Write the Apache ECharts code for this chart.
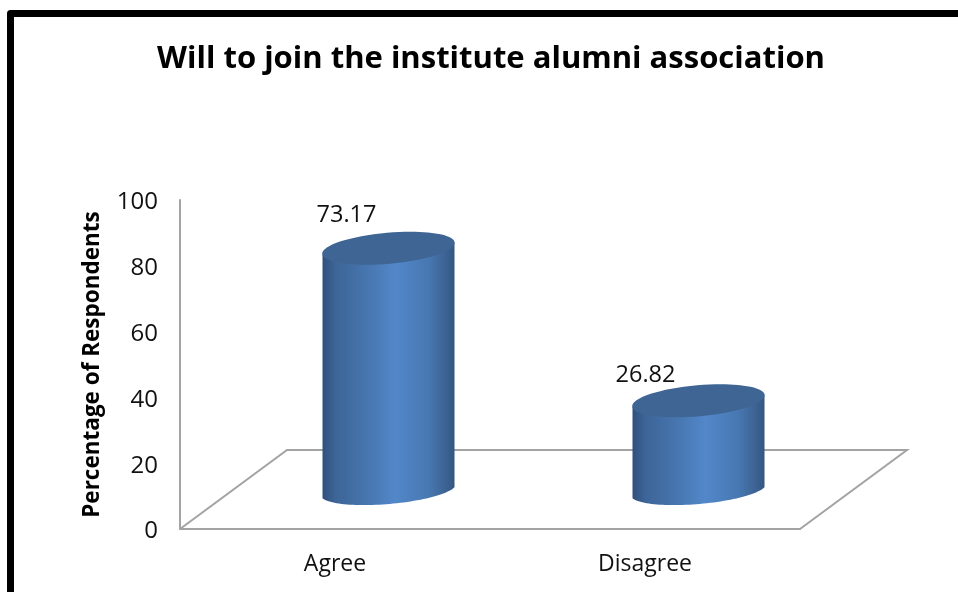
<!DOCTYPE html>
<html><head><meta charset="utf-8">
<style>html,body{margin:0;padding:0;background:#fff}#c{width:958px;height:592px}</style>
<script src="https://cdn.jsdelivr.net/npm/echarts@6/dist/echarts.min.js"></script>
</head><body><div id="c"></div>
<script>
const categories = ['Agree', 'Disagree'];
const values = [73.17, 26.82];
const yTicks = [0, 20, 40, 60, 80, 100];
const titleText = 'Will to join the institute alumni association';
const yName = 'Percentage of Respondents';

const FONT = '"Open Sans", "Noto Sans", sans-serif';
const G = {left: 180, top: 200, width: 620, height: 329};
const DEPTH = {x: 107, y: -79};
const AXIS = '#a3a3a3';
const labelShift = [[-42, -33], [-53, -26]];

const chart = echarts.init(document.getElementById('c'), null, {renderer: 'canvas'});
const bodyFill = new echarts.graphic.LinearGradient(0, 0, 1, 0, [
  {offset: 0, color: '#30507c'},
  {offset: 0.1, color: '#3d6598'},
  {offset: 0.3, color: '#4573ab'},
  {offset: 0.55, color: '#5287c9'},
  {offset: 0.8, color: '#4878b2'},
  {offset: 0.95, color: '#3b608f'},
  {offset: 1, color: '#34567f'}
]);
const A = 68, B = 14.5, TILT = 5 * Math.PI / 180;

function renderCylinder(params, api) {
  const i = api.value(0), v = api.value(1);
  const base = api.coord([i, 0]), top = api.coord([i, v]);
  const cx = base[0] + DEPTH.x / 2;
  const yb = base[1] + DEPTH.y / 2, yt = top[1] + DEPTH.y / 2;
  const hw = 66, dy = 5.5;
  const pts = [];
  for (let k = 0; k <= 60; k++) {
    const t = Math.PI - Math.PI * k / 60;
    const ex = A * Math.cos(t), ey = B * Math.sin(t);
    pts.push([cx + ex * Math.cos(TILT) + ey * Math.sin(TILT),
              yb - ex * Math.sin(TILT) + ey * Math.cos(TILT)]);
  }
  const clip = p => [Math.max(cx - hw, Math.min(cx + hw, p[0])), p[1]];
  const outline = [[cx - hw, yt + dy]].concat(pts.map(clip), [[cx + hw, yt - dy]]);
  return {
    type: 'group',
    children: [
      {type: 'polygon', shape: {points: outline}, style: {fill: bodyFill}},
      {type: 'ellipse', shape: {cx: 0, cy: 0, rx: A - 1.5, ry: B + 1},
       x: cx, y: yt - 0.5, rotation: TILT,
       style: {fill: '#3e6593'}},
      {type: 'text', x: cx + labelShift[i][0], y: yt + labelShift[i][1],
       style: {text: v.toFixed(2), fill: '#111', font: '23.5px ' + FONT, align: 'center', verticalAlign: 'middle'}}
    ]
  };
}

const gL = G.left, gB = G.top + G.height, gR = G.left + G.width;
chart.setOption({
  animation: false,
  backgroundColor: '#fff',
  title: {
    text: titleText, left: 486, top: 39, textAlign: 'center',
    textStyle: {fontFamily: FONT, fontWeight: 'bold', fontSize: 31, color: '#000'}
  },
  graphic: [
    {type: 'polyline', z: 0, shape: {points: [[10.5, 610], [10.5, 13.5], [980, 13.5]]},
     style: {stroke: '#000', lineWidth: 7, lineJoin: 'round', fill: null}},
    {type: 'polyline', z: 0,
     shape: {points: [[gL, gB], [gL + DEPTH.x, gB + DEPTH.y], [gR + DEPTH.x, gB + DEPTH.y], [gR, gB]]},
     style: {stroke: AXIS, lineWidth: 2, fill: null}}
  ],
  grid: {left: G.left, top: G.top, width: G.width, height: G.height},
  xAxis: {
    type: 'category', data: categories,
    axisLine: {show: true, lineStyle: {color: AXIS, width: 2}},
    axisTick: {show: false},
    axisLabel: {fontFamily: FONT, fontSize: 23, color: '#111', margin: 24}
  },
  yAxis: {
    type: 'value', min: 0, max: 100, interval: yTicks[1] - yTicks[0],
    name: yName, nameLocation: 'middle', nameGap: 76,
    nameTextStyle: {fontFamily: FONT, fontWeight: 'bold', fontSize: 22.5, color: '#000'},
    axisLine: {show: true, lineStyle: {color: AXIS, width: 2}},
    axisTick: {show: false},
    splitLine: {show: false},
    axisLabel: {
      margin: 22,
      formatter: '{t|{value}}',
      rich: {t: {fontFamily: FONT, fontSize: 24, color: '#111', padding: [5, 0, 0, 0]}}
    }
  },
  series: [{
    type: 'custom', renderItem: renderCylinder, clip: false,
    encode: {x: 0, y: 1},
    data: values.map((v, i) => [i, v])
  }]
});
</script></body></html>
